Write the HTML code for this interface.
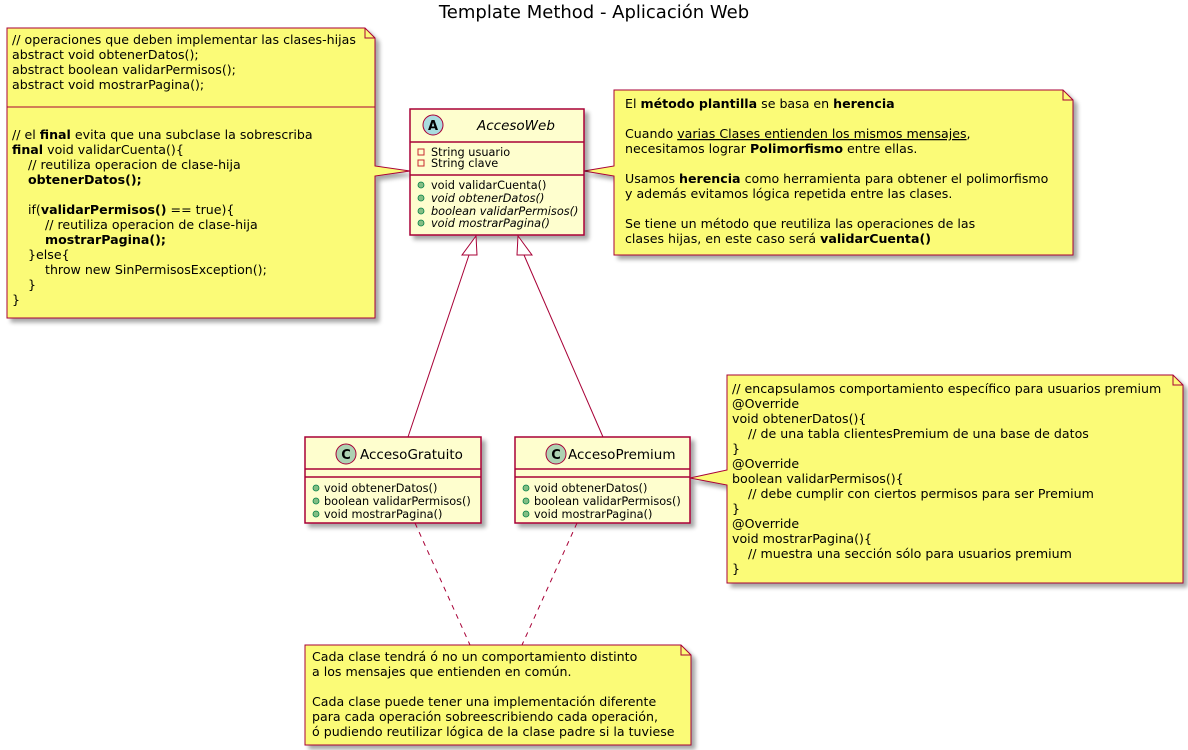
<!DOCTYPE html>
<html><head><meta charset="utf-8"><style>
html,body{margin:0;padding:0;background:#fff;}
svg{display:block;font-family:"DejaVu Sans","Liberation Sans",sans-serif;}
.n{font-size:12.6px;fill:#000;}
.m{font-size:11.3px;fill:#000;}
</style></head><body>
<svg width="1188" height="750" viewBox="0 0 1188 750" xmlns="http://www.w3.org/2000/svg">
<defs><filter id="sh" x="-10%" y="-10%" width="130%" height="130%"><feGaussianBlur in="SourceAlpha" stdDeviation="2"/><feOffset dx="4" dy="4"/><feComponentTransfer><feFuncA type="linear" slope="0.35"/></feComponentTransfer><feMerge><feMergeNode/><feMergeNode in="SourceGraphic"/></feMerge></filter></defs>
<text x="594" y="18" text-anchor="middle" font-size="18" fill="#000">Template Method - Aplicación Web</text>

<g filter="url(#sh)">
<path d="M7,28 L365,28 L375,38 L375,166 L410,171 L375,176 L375,318 L7,318 Z" fill="#FBFB77" stroke="#A80036" stroke-width="1"/>
</g>
<path d="M365,28 L365,38 L375,38" fill="none" stroke="#A80036"/>
<line x1="7" y1="107" x2="375" y2="107" stroke="#A80036"/>
<g class="n">
<text x="12" y="44">// operaciones que deben implementar las clases-hijas</text>
<text x="12" y="59">abstract void obtenerDatos();</text>
<text x="12" y="74">abstract boolean validarPermisos();</text>
<text x="12" y="89">abstract void mostrarPagina();</text>
<text x="12" y="139">// el <tspan font-weight="bold">final</tspan> evita que una subclase la sobrescriba</text>
<text x="12" y="154"><tspan font-weight="bold">final</tspan> void validarCuenta(){</text>
<text x="28" y="169">// reutiliza operacion de clase-hija</text>
<text x="28" y="184" font-weight="bold">obtenerDatos();</text>
<text x="28" y="214">if(<tspan font-weight="bold">validarPermisos()</tspan> == true){</text>
<text x="45" y="229">// reutiliza operacion de clase-hija</text>
<text x="45" y="244" font-weight="bold">mostrarPagina();</text>
<text x="28" y="259">}else{</text>
<text x="45" y="274">throw new SinPermisosException();</text>
<text x="28" y="289">}</text>
<text x="12" y="304">}</text>
</g>

<g filter="url(#sh)">
<path d="M614,90 L1063,90 L1073,100 L1073,255 L614,255 L614,176 L584,171 L614,166 Z" fill="#FBFB77" stroke="#A80036"/>
</g>
<path d="M1063,90 L1063,100 L1073,100" fill="none" stroke="#A80036"/>
<g class="n">
<text x="625" y="108">El <tspan font-weight="bold">método plantilla</tspan> se basa en <tspan font-weight="bold">herencia</tspan></text>
<text x="625" y="138">Cuando <tspan text-decoration="underline">varias Clases entienden los mismos mensajes</tspan>,</text>
<text x="625" y="153">necesitamos lograr <tspan font-weight="bold">Polimorfismo</tspan> entre ellas.</text>
<text x="625" y="183">Usamos <tspan font-weight="bold">herencia</tspan> como herramienta para obtener el polimorfismo</text>
<text x="625" y="198">y además evitamos lógica repetida entre las clases.</text>
<text x="625" y="228">Se tiene un método que reutiliza las operaciones de las</text>
<text x="625" y="243">clases hijas, en este caso será <tspan font-weight="bold">validarCuenta()</tspan></text>
</g>

<g filter="url(#sh)"><rect x="410" y="109" width="174" height="126" fill="#FEFECE" stroke="#A80036" stroke-width="1.5"/></g>
<line x1="410" y1="142" x2="584" y2="142" stroke="#A80036" stroke-width="1.5"/>
<line x1="410" y1="175" x2="584" y2="175" stroke="#A80036" stroke-width="1.5"/>
<circle cx="433" cy="125" r="10" fill="#A9DCDF" stroke="#A80036"/>
<text x="433" y="130" text-anchor="middle" font-size="13" font-weight="bold">A</text>
<text x="477" y="130" font-size="13.5" font-style="italic">AccesoWeb</text>
<rect x="418" y="149" width="6" height="6" fill="none" stroke="#C82930"/>
<rect x="418" y="160" width="6" height="6" fill="none" stroke="#C82930"/>
<g class="m">
<text x="431" y="156">String usuario</text>
<text x="431" y="167">String clave</text>
<text x="431" y="189">void validarCuenta()</text>
<text x="431" y="202" font-style="italic">void obtenerDatos()</text>
<text x="431" y="215" font-style="italic">boolean validarPermisos()</text>
<text x="431" y="227" font-style="italic">void mostrarPagina()</text>
</g>
<g fill="#84BE84" stroke="#038048" stroke-width="0.8">
<circle cx="421" cy="185" r="3"/><circle cx="421" cy="198" r="3"/><circle cx="421" cy="211" r="3"/><circle cx="421" cy="223" r="3"/>
</g>

<g stroke="#A80036" fill="none">
<line x1="469" y1="255" x2="408" y2="437"/>
<line x1="524" y1="255" x2="603" y2="437"/>
<path d="M476,236 L462,255 L477,255 Z" fill="#fff"/>
<path d="M518,236 L517,255 L532,255 Z" fill="#fff"/>
</g>

<g filter="url(#sh)"><rect x="305" y="437" width="176" height="86" fill="#FEFECE" stroke="#A80036" stroke-width="1.5"/></g>
<line x1="305" y1="469" x2="481" y2="469" stroke="#A80036" stroke-width="1.5"/>
<line x1="305" y1="477" x2="481" y2="477" stroke="#A80036" stroke-width="1.5"/>
<circle cx="346" cy="454" r="10" fill="#ADD1B2" stroke="#A80036"/>
<text x="346" y="459" text-anchor="middle" font-size="13" font-weight="bold">C</text>
<text x="360" y="459" font-size="13.5">AccesoGratuito</text>
<g class="m">
<text x="324" y="492">void obtenerDatos()</text>
<text x="324" y="505">boolean validarPermisos()</text>
<text x="324" y="518">void mostrarPagina()</text>
</g>
<g fill="#84BE84" stroke="#038048" stroke-width="0.8">
<circle cx="316" cy="488" r="3"/><circle cx="316" cy="501" r="3"/><circle cx="316" cy="514" r="3"/>
</g>

<g filter="url(#sh)"><rect x="515" y="437" width="175" height="86" fill="#FEFECE" stroke="#A80036" stroke-width="1.5"/></g>
<line x1="515" y1="469" x2="690" y2="469" stroke="#A80036" stroke-width="1.5"/>
<line x1="515" y1="477" x2="690" y2="477" stroke="#A80036" stroke-width="1.5"/>
<circle cx="556" cy="454" r="10" fill="#ADD1B2" stroke="#A80036"/>
<text x="556" y="459" text-anchor="middle" font-size="13" font-weight="bold">C</text>
<text x="568" y="459" font-size="13.5">AccesoPremium</text>
<g class="m">
<text x="534" y="492">void obtenerDatos()</text>
<text x="534" y="505">boolean validarPermisos()</text>
<text x="534" y="518">void mostrarPagina()</text>
</g>
<g fill="#84BE84" stroke="#038048" stroke-width="0.8">
<circle cx="526" cy="488" r="3"/><circle cx="526" cy="501" r="3"/><circle cx="526" cy="514" r="3"/>
</g>

<g filter="url(#sh)">
<path d="M727,375 L1173,375 L1183,385 L1183,583 L727,583 L727,485 L690,478 L727,470 Z" fill="#FBFB77" stroke="#A80036"/>
</g>
<path d="M1173,375 L1173,385 L1183,385" fill="none" stroke="#A80036"/>
<g class="n">
<text x="732" y="393">// encapsulamos comportamiento específico para usuarios premium</text>
<text x="732" y="408">@Override</text>
<text x="732" y="423">void obtenerDatos(){</text>
<text x="748" y="438">// de una tabla clientesPremium de una base de datos</text>
<text x="732" y="453">}</text>
<text x="732" y="468">@Override</text>
<text x="732" y="483">boolean validarPermisos(){</text>
<text x="748" y="498">// debe cumplir con ciertos permisos para ser Premium</text>
<text x="732" y="513">}</text>
<text x="732" y="528">@Override</text>
<text x="732" y="543">void mostrarPagina(){</text>
<text x="748" y="558">// muestra una sección sólo para usuarios premium</text>
<text x="732" y="573">}</text>
</g>

<g stroke="#A80036" stroke-dasharray="5,5">
<line x1="415" y1="523" x2="470" y2="645"/>
<line x1="577" y1="523" x2="522" y2="645"/>
</g>

<g filter="url(#sh)">
<path d="M305,645 L681,645 L691,655 L691,745 L305,745 Z" fill="#FBFB77" stroke="#A80036"/>
</g>
<path d="M681,645 L681,655 L691,655" fill="none" stroke="#A80036"/>
<g class="n">
<text x="312" y="661">Cada clase tendrá ó no un comportamiento distinto</text>
<text x="312" y="676">a los mensajes que entienden en común.</text>
<text x="312" y="706">Cada clase puede tener una implementación diferente</text>
<text x="312" y="721">para cada operación sobreescribiendo cada operación,</text>
<text x="312" y="736">ó pudiendo reutilizar lógica de la clase padre si la tuviese</text>
</g>
</svg>
</body></html>
